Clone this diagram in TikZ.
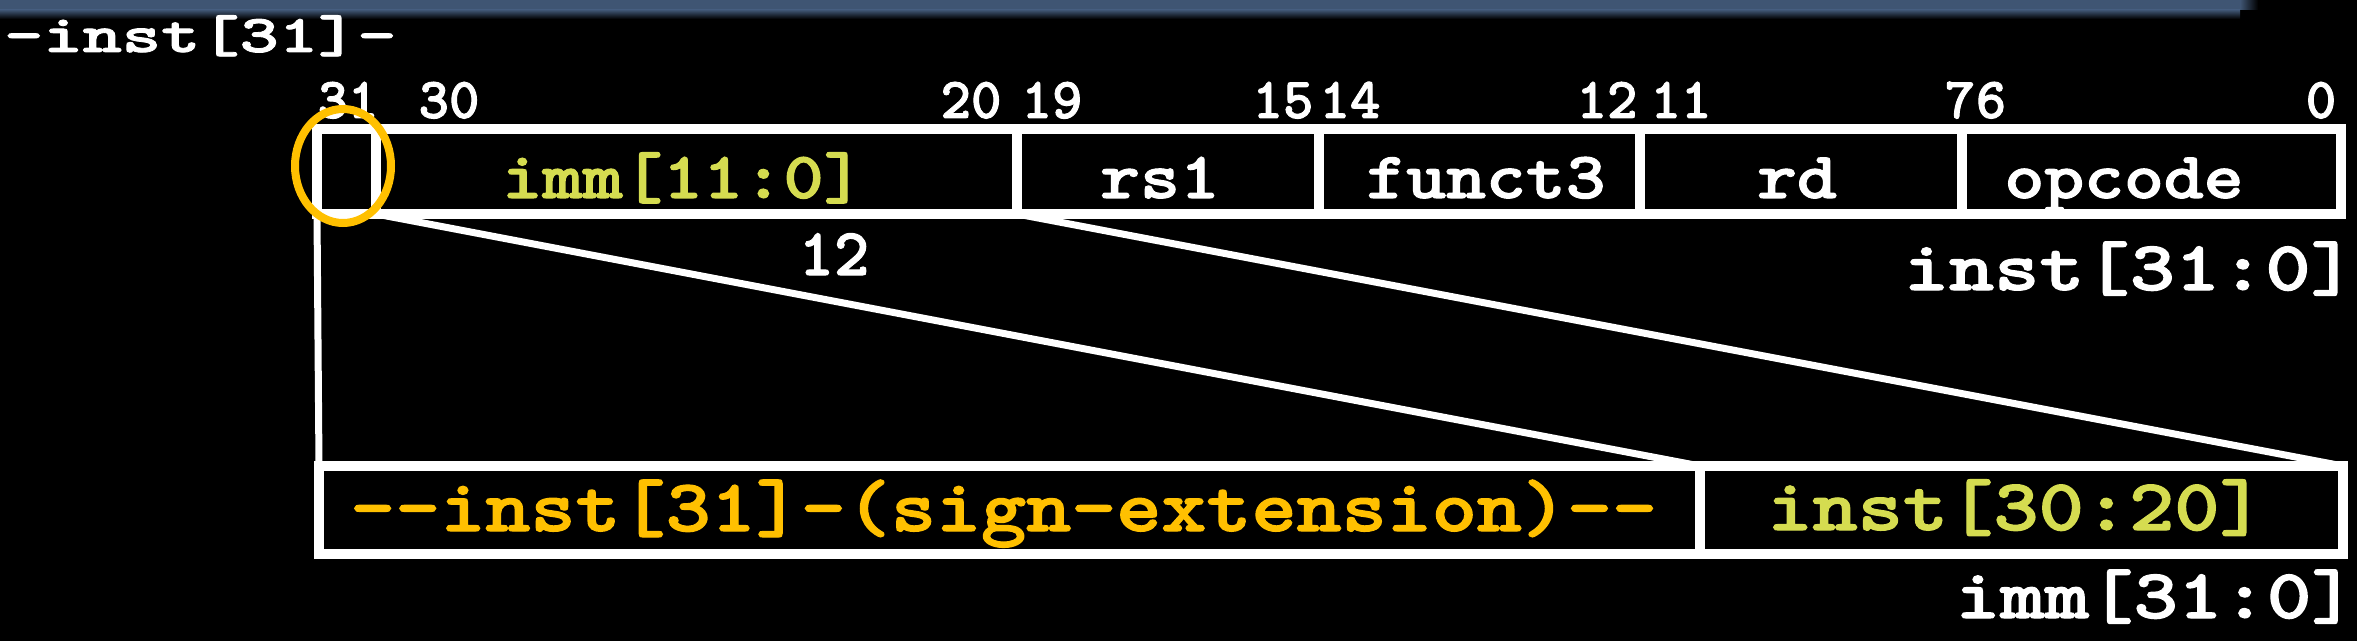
\documentclass[tikz,border=0pt]{standalone}
\usepackage{fontspec}
\usepackage{graphicx}
\newfontfamily\cfb[FakeBold=1.6]{lmmonolt10-bold.otf}
\definecolor{band}{HTML}{3F5573}
\definecolor{ylw}{HTML}{D5DC50}
\definecolor{org}{HTML}{FFC000}
\newcommand{\hstretch}[2]{\scalebox{#1}[1]{#2}}
\newcommand{\tts}[1]{\cfb\fontsize{#1bp}{#1bp}\selectfont}
\tikzset{
  cell/.style={draw=white, line width=10bp, inner sep=0pt, outer sep=0pt, anchor=north west},
  bitno/.style={text=white, font=\tts{58}, anchor=base, inner sep=0pt},
  lbl/.style={text=white, font=\tts{66}, anchor=base, inner sep=0pt},
  big/.style={text=white, font=\tts{70}, inner sep=0pt},
  wire/.style={draw=white, line width=7bp},
  ring/.style={draw=org, line width=8bp},
}
\begin{document}
\begin{tikzpicture}[x=1bp,y=-1bp]
\useasboundingbox (0,0) rectangle (2357,641);
\fill[black] (0,0) rectangle (2357,641);
% top band
\fill[band] (0,0) rectangle (2240,10);
\shade[top color=band, bottom color=black] (0,10) rectangle (2240,19);
\shade[left color=band, right color=black] (2240,0) rectangle (2258,10);

% field cells
\node[cell, minimum width=59bp, minimum height=85bp] (b31) at (317,129) {};
\node[cell, minimum width=641bp, minimum height=85bp] (imm) at (376,129) {};
\node[cell, minimum width=302bp, minimum height=85bp] (rs1) at (1017,129) {};
\node[cell, minimum width=321bp, minimum height=85bp] (f3) at (1319,129) {};
\node[cell, minimum width=322bp, minimum height=85bp] (rd) at (1640,129) {};
\node[cell, minimum width=379bp, minimum height=85bp] (op) at (1962,129) {};

\node[cell, minimum width=1381bp, minimum height=88bp] (sx) at (319,466) {};
\node[cell, minimum width=643bp, minimum height=88bp] (lo) at (1700,466) {};

% wires
\draw[wire] (b31.south west) -- (sx.north west);
\draw[wire] (b31.south east) -- (sx.north east);
\draw[wire] (imm.south east) -- (lo.north east);

% redraw box borders on top of wire ends
\foreach \n in {b31,imm,rs1,f3,rd,op,sx,lo} {\draw[white, line width=10bp] (\n.north west) rectangle (\n.south east);}

% bit numbers
\node[bitno] (n31) at (348,118) {31};
\node[bitno] (n30) at (449,118) {30};
\node[bitno] (n20) at (971,118) {20};
\node[bitno] (n19) at (1052,118) {19};
\node[bitno] (n15) at (1283,118) {15};
\node[bitno] (n14) at (1350,118) {14};
\node[bitno] (n12) at (1607,118) {12};
\node[bitno] (n11) at (1681,118) {11};
\node[bitno] (n7) at (1960,118) {7};
\node[bitno] (n6) at (1991,118) {6};
\node[bitno] (n0) at (2321,118) {0};

% field labels
\node[lbl, text=ylw] (limm) at (683,198) {\hstretch{1.16}{imm[11:0]}};
\node[lbl] (lrs1) at (1160,198) {\hstretch{1.15}{rs1}};
\node[lbl] (lf3) at (1486,198) {\hstretch{1.15}{funct3}};
\node[lbl] (lrd) at (1797,198) {\hstretch{1.15}{rd}};
\node[lbl] (lop) at (2124,198) {\hstretch{1.15}{opcode}};

\node[lbl, font=\tts{67}] (twelve) at (834,275) {12};

\node[big, anchor=base east] (install) at (2356,290) {\hstretch{1.23}{inst[31:0]}};
\node[big, anchor=base west, font=\tts{53}] (inst31) at (4,52) {\hstretch{1.41}{-inst[31]-}};

\node[big, anchor=base west, text=org, font=\tts{74}] (sxl) at (350,531) {\hstretch{1.16}{--inst[31]-(sign-extension)--}};
\node[big, anchor=base, text=ylw, font=\tts{73}] (lol) at (2016,530) {\hstretch{1.18}{inst[30:20]}};
\node[big, anchor=base east] (immall) at (2356,618) {\hstretch{1.21}{imm[31:0]}};

% highlight ring
\coordinate (rc) at (343,166);
\draw[ring] (rc) ellipse [x radius=48, y radius=57];
\end{tikzpicture}
\end{document}
